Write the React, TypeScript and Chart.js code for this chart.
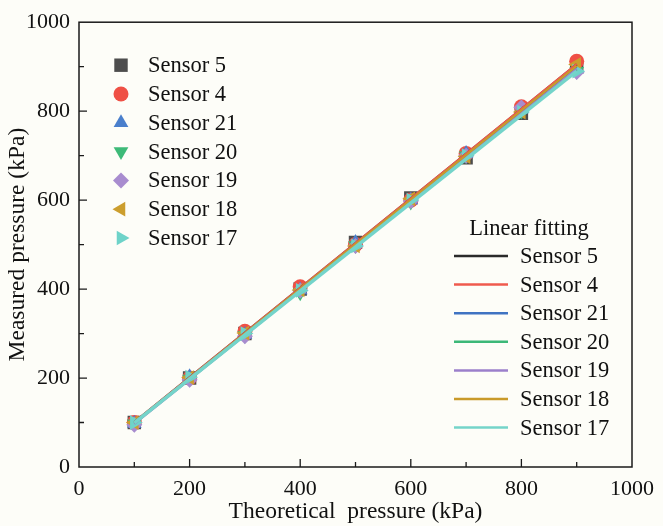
import React, { useEffect, useRef } from 'react';
import { Chart, registerables } from 'chart.js';

Chart.register(...registerables);

// Applied (theoretical) pressure steps, kPa
const theoretical = [100, 200, 300, 400, 500, 600, 700, 800, 900];

// Measured pressure per sensor, kPa
const sensor5 = [100, 200, 300, 400, 505, 605, 695, 795, 900];
const sensor4 = [100, 200, 305, 405, 500, 600, 705, 810, 912];
const sensor21 = [98, 203, 298, 398, 505, 600, 705, 805, 895];
const sensor20 = [97, 198, 296, 392, 498, 596, 700, 800, 890];
const sensor19 = [95, 196, 294, 397, 497, 598, 700, 808, 888];
const sensor18 = [100, 201, 301, 398, 497, 603, 698, 798, 905];
const sensor17 = [100, 202, 300, 397, 497, 600, 700, 798, 890];

// Linear fit end points (at 100 kPa and 900 kPa)
const fitX = [100, 900];
const fit5 = [101, 905];
const fit4 = [101, 906];
const fit21 = [100, 900];
const fit20 = [98, 893];
const fit19 = [97, 895];
const fit18 = [100, 902];
const fit17 = [99, 890];

const sensorNames = ['Sensor 5', 'Sensor 4', 'Sensor 21', 'Sensor 20', 'Sensor 19', 'Sensor 18', 'Sensor 17'];
const measured = [sensor5, sensor4, sensor21, sensor20, sensor19, sensor18, sensor17];
const fits = [fit5, fit4, fit21, fit20, fit19, fit18, fit17];

const markerColors = ['#4d4d4d', '#ef5045', '#4a7fcc', '#3dba78', '#a88ccf', '#cc9e2e', '#6ed3c9'];
const lineColors = ['#2a2a2a', '#ef5a4e', '#3f73c2', '#3cb878', '#9b7fcb', '#c99a2a', '#74d4ca'];
// pointStyle, rotation (deg), radius
const markerShapes: [string, number, number][] = [
  ['rect', 0, 9.5],
  ['circle', 0, 7.5],
  ['triangle', 0, 8.5],
  ['triangle', 180, 8.5],
  ['rectRot', 0, 8],
  ['triangle', -90, 8.5],
  ['triangle', 90, 8.5],
];

const xTicks = [0, 200, 400, 600, 800, 1000];
const yTicks = [0, 200, 400, 600, 800, 1000];

const BG = '#fdfdf8';
const FONT = "'Liberation Serif', 'Times New Roman', Times, serif";
const TICK_SIZE = 22;
const TITLE_SIZE = 23.5;
const LEGEND_SIZE = 22.5;

function drawMarker(ctx: CanvasRenderingContext2D, style: string, rotDeg: number, x: number, y: number, r: number, color: string) {
  const rad = (rotDeg * Math.PI) / 180;
  ctx.beginPath();
  if (style === 'rect') {
    const s = Math.SQRT1_2 * r;
    ctx.rect(x - s, y - s, 2 * s, 2 * s);
  } else if (style === 'circle') {
    ctx.arc(x, y, r, 0, Math.PI * 2);
  } else if (style === 'rectRot') {
    ctx.moveTo(x - r, y);
    ctx.lineTo(x, y - r);
    ctx.lineTo(x + r, y);
    ctx.lineTo(x, y + r);
    ctx.closePath();
  } else {
    let a = rad;
    ctx.moveTo(x + Math.sin(a) * r, y - Math.cos(a) * r);
    a += (2 * Math.PI) / 3;
    ctx.lineTo(x + Math.sin(a) * r, y - Math.cos(a) * r);
    a += (2 * Math.PI) / 3;
    ctx.lineTo(x + Math.sin(a) * r, y - Math.cos(a) * r);
    ctx.closePath();
  }
  ctx.fillStyle = color;
  ctx.fill();
}

const decorPlugin = {
  id: 'decor',
  beforeDraw(chart: any) {
    const ctx = chart.ctx as CanvasRenderingContext2D;
    ctx.save();
    ctx.fillStyle = BG;
    ctx.fillRect(0, 0, chart.width, chart.height);
    ctx.restore();
  },
  afterDraw(chart: any) {
    const ctx = chart.ctx as CanvasRenderingContext2D;
    const { left, right, top, bottom } = chart.chartArea;
    const xs = chart.scales.x;
    const ys = chart.scales.y;
    ctx.save();
    ctx.strokeStyle = '#1a1a1a';
    ctx.lineWidth = 1.5;
    ctx.strokeRect(left, top, right - left, bottom - top);

    // inward major and minor ticks on bottom and left axes
    ctx.lineWidth = 1.3;
    ctx.beginPath();
    for (let v = 100; v < 1000; v += 100) {
      const len = v % 200 === 0 ? 8 : 5;
      const px = xs.getPixelForValue(v);
      ctx.moveTo(px, bottom);
      ctx.lineTo(px, bottom - len);
      const py = ys.getPixelForValue(v);
      ctx.moveTo(left, py);
      ctx.lineTo(left + len, py);
    }
    ctx.stroke();

    // marker legend
    ctx.font = `${LEGEND_SIZE}px ${FONT}`;
    ctx.textBaseline = 'middle';
    ctx.textAlign = 'left';
    const mx = left + 42;
    const my0 = top + 43;
    const rowH = 28.8;
    sensorNames.forEach((name, i) => {
      const [style, rot, r] = markerShapes[i];
      const y = my0 + i * rowH;
      drawMarker(ctx, style, rot, mx, y, r, markerColors[i]);
      ctx.fillStyle = '#111';
      ctx.fillText(name, left + 69, y + 1);
    });

    // fitting-line legend
    ctx.textAlign = 'center';
    ctx.fillStyle = '#111';
    ctx.fillText('Linear fitting', 529, 229);
    ctx.textAlign = 'left';
    const ly0 = 256;
    const lh = 28.6;
    sensorNames.forEach((name, i) => {
      const y = ly0 + i * lh;
      ctx.strokeStyle = lineColors[i];
      ctx.lineWidth = 2.5;
      ctx.beginPath();
      ctx.moveTo(454, y);
      ctx.lineTo(508, y);
      ctx.stroke();
      ctx.fillStyle = '#111';
      ctx.fillText(name, 520, y + 1);
    });
    ctx.restore();
  },
};

export default function App() {
  const canvasRef = useRef<HTMLCanvasElement | null>(null);

  useEffect(() => {
    const canvas = canvasRef.current;
    if (!canvas) return;
    let chart: Chart | null = null;
    let cancelled = false;

    const build = () => {
      if (cancelled) return;
      const pointSets = measured.map((vals, i) => ({
        type: 'scatter' as const,
        label: sensorNames[i],
        data: theoretical.map((t, j) => ({ x: t, y: vals[j] })),
        pointStyle: markerShapes[i][0],
        rotation: markerShapes[i][1],
        pointRadius: markerShapes[i][2],
        pointBackgroundColor: markerColors[i],
        pointBorderColor: markerColors[i],
        pointBorderWidth: 0,
        showLine: false,
        order: 16 - i,
      }));
      const lineSets = fits.map((vals, i) => ({
        type: 'scatter' as const,
        label: 'Fit ' + sensorNames[i],
        data: fitX.map((t, j) => ({ x: t, y: vals[j] })),
        showLine: true,
        borderColor: lineColors[i],
        borderWidth: i === 6 ? 3.5 : 2.2,
        pointRadius: 0,
        order: 6 - i,
      }));

      chart = new Chart(canvas, {
        type: 'scatter',
        data: { datasets: [...pointSets, ...lineSets] as any },
        plugins: [decorPlugin],
        options: {
          animation: false,
          responsive: false,
          devicePixelRatio: 1,
          layout: { padding: { top: 17, right: 26, left: 0, bottom: 0 } },
          plugins: { legend: { display: false }, tooltip: { enabled: false } },
          scales: {
            x: {
              type: 'linear',
              min: 0,
              max: 1000,
              afterFit: (s: any) => { s.height = 59; },
              afterBuildTicks: (s: any) => { s.ticks = xTicks.map((v) => ({ value: v })); },
              grid: { display: false, drawTicks: false },
              border: { display: false },
              ticks: {
                padding: 9,
                color: '#111',
                font: { family: FONT, size: TICK_SIZE },
                maxRotation: 0,
                callback: (v: any) => String(v),
              },
              title: {
                display: true,
                text: 'Theoretical  pressure (kPa)',
                color: '#111',
                font: { family: FONT, size: TITLE_SIZE },
                padding: { top: 0, bottom: 0 },
              },
            },
            y: {
              type: 'linear',
              min: 0,
              max: 1000,
              afterFit: (s: any) => { s.width = 79; },
              afterBuildTicks: (s: any) => { s.ticks = yTicks.map((v) => ({ value: v })); },
              grid: { display: false, drawTicks: false },
              border: { display: false },
              ticks: {
                padding: 9,
                color: '#111',
                font: { family: FONT, size: TICK_SIZE },
                callback: (v: any) => String(v),
              },
              title: {
                display: true,
                text: 'Measured pressure (kPa)',
                color: '#111',
                font: { family: FONT, size: TITLE_SIZE },
                padding: { top: 4, bottom: 0 },
              },
            },
          },
        },
      });
    };

    const fonts = (document as any).fonts;
    if (fonts && fonts.load) {
      fonts.load("20px 'Liberation Serif'").then(build, build);
    } else {
      build();
    }

    return () => {
      cancelled = true;
      if (chart) chart.destroy();
    };
  }, []);

  return (
    <div style={{ position: 'fixed', left: 0, top: 0, width: 663, height: 526, background: BG }}>
      <canvas ref={canvasRef} width={663} height={526} style={{ display: 'block', width: 663, height: 526 }} />
    </div>
  );
}
